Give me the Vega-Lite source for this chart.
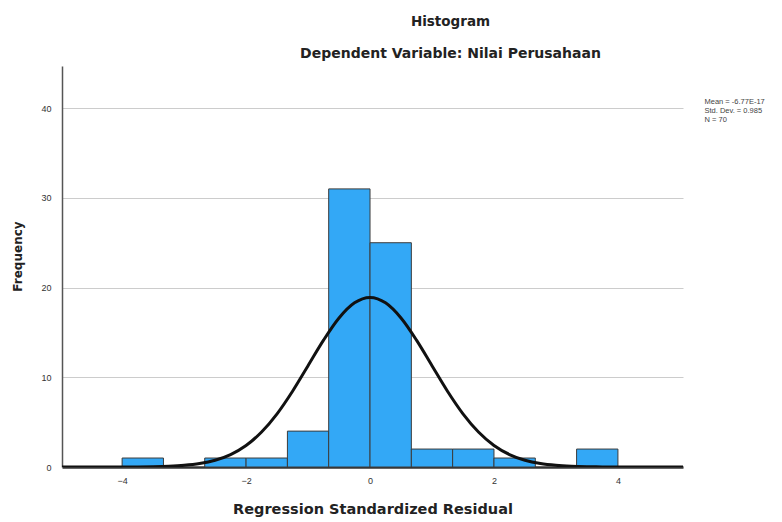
{
  "$schema": "https://vega.github.io/schema/vega-lite/v6.json",
  "width": 621,
  "height": 401,
  "autosize": "none",
  "padding": {"left": 62, "top": 66, "right": 99, "bottom": 55},
  "background": "white",
  "title": {
    "text": "Histogram",
    "subtitle": "Dependent Variable: Nilai Perusahaan",
    "anchor": "middle",
    "dx": 78,
    "offset": 5,
    "font": "DejaVu Sans",
    "fontSize": 13.5,
    "fontWeight": "bold",
    "color": "#222",
    "subtitleFont": "DejaVu Sans",
    "subtitleFontSize": 14,
    "subtitleFontWeight": "bold",
    "subtitleColor": "#222",
    "subtitlePadding": 19
  },
  "config": {
    "view": {"stroke": null},
    "axis": {"labelFont": "Liberation Sans", "titleFont": "DejaVu Sans"}
  },
  "datasets": {
    "bins": [
      {"bin_start": -4.0, "bin_end": -3.333, "count": 1},
      {"bin_start": -2.667, "bin_end": -2.0, "count": 1},
      {"bin_start": -2.0, "bin_end": -1.333, "count": 1},
      {"bin_start": -1.333, "bin_end": -0.667, "count": 4},
      {"bin_start": -0.667, "bin_end": 0.0, "count": 31},
      {"bin_start": 0.0, "bin_end": 0.667, "count": 25},
      {"bin_start": 0.667, "bin_end": 1.333, "count": 2},
      {"bin_start": 1.333, "bin_end": 2.0, "count": 2},
      {"bin_start": 2.0, "bin_end": 2.667, "count": 1},
      {"bin_start": 3.333, "bin_end": 4.0, "count": 2}
    ],
    "curve": [
      {"x": -5.0, "y": 0.0},
      {"x": -4.5, "y": 0.0005},
      {"x": -4.0, "y": 0.005},
      {"x": -3.75, "y": 0.013},
      {"x": -3.5, "y": 0.034},
      {"x": -3.25, "y": 0.082},
      {"x": -3.0, "y": 0.183},
      {"x": -2.75, "y": 0.383},
      {"x": -2.5, "y": 0.754},
      {"x": -2.25, "y": 1.39},
      {"x": -2.0, "y": 2.40},
      {"x": -1.75, "y": 3.90},
      {"x": -1.5, "y": 5.93},
      {"x": -1.25, "y": 8.45},
      {"x": -1.0, "y": 11.29},
      {"x": -0.75, "y": 14.14},
      {"x": -0.5, "y": 16.61},
      {"x": -0.25, "y": 18.30},
      {"x": 0.0, "y": 18.90},
      {"x": 0.25, "y": 18.30},
      {"x": 0.5, "y": 16.61},
      {"x": 0.75, "y": 14.14},
      {"x": 1.0, "y": 11.29},
      {"x": 1.25, "y": 8.45},
      {"x": 1.5, "y": 5.93},
      {"x": 1.75, "y": 3.90},
      {"x": 2.0, "y": 2.40},
      {"x": 2.25, "y": 1.39},
      {"x": 2.5, "y": 0.754},
      {"x": 2.75, "y": 0.383},
      {"x": 3.0, "y": 0.183},
      {"x": 3.25, "y": 0.082},
      {"x": 3.5, "y": 0.034},
      {"x": 3.75, "y": 0.013},
      {"x": 4.0, "y": 0.005},
      {"x": 4.5, "y": 0.0005},
      {"x": 5.05, "y": 0.0}
    ],
    "stats": [
      {"stat": "Mean = -6.77E-17"},
      {"stat": "Std. Dev. = 0.985"},
      {"stat": "N = 70"}
    ]
  },
  "layer": [
    {
      "data": {"name": "bins"},
      "mark": {"type": "bar", "color": "#33a8f6", "stroke": "#3c3c3c", "strokeWidth": 1},
      "encoding": {
        "x": {
          "field": "bin_start",
          "type": "quantitative",
          "scale": {"domain": [-4.97, 5.05], "nice": false, "zero": false},
          "axis": {
            "title": "Regression Standardized Residual",
            "values": [-4, -2, 0, 2, 4],
            "format": "d",
            "grid": false,
            "ticks": false,
            "domainColor": "#333",
            "domainWidth": 2.5,
            "labelFontSize": 9,
            "labelColor": "#333",
            "labelPadding": 9,
            "titleFontSize": 14.5,
            "titleFontWeight": "bold",
            "titleColor": "#222",
            "titlePadding": 17
          }
        },
        "x2": {"field": "bin_end"},
        "y": {
          "field": "count",
          "type": "quantitative",
          "scale": {"domain": [0, 44.7], "nice": false},
          "axis": {
            "title": "Frequency",
            "values": [0, 10, 20, 30, 40],
            "format": "d",
            "grid": true,
            "gridColor": "#cccccc",
            "gridWidth": 1,
            "ticks": false,
            "domainColor": "#555",
            "domainWidth": 1.5,
            "labelFontSize": 9,
            "labelColor": "#333",
            "labelPadding": 11,
            "titleFontSize": 12,
            "titleFontWeight": "bold",
            "titleColor": "#222",
            "titlePadding": 16,
            "titleY": 190
          }
        },
        "y2": {"datum": 0}
      }
    },
    {
      "data": {"name": "curve"},
      "mark": {"type": "line", "color": "#111", "strokeWidth": 3, "interpolate": "monotone", "clip": true},
      "encoding": {
        "x": {"field": "x", "type": "quantitative"},
        "y": {"field": "y", "type": "quantitative"}
      }
    },
    {
      "data": {"name": "stats"},
      "mark": {"type": "point", "opacity": 0},
      "encoding": {
        "x": {"datum": 0},
        "y": {"datum": 0},
        "color": {
          "field": "stat",
          "type": "nominal",
          "scale": {"domain": ["Mean = -6.77E-17", "Std. Dev. = 0.985", "N = 70"], "range": ["#ffffff", "#ffffff", "#ffffff"]},
          "legend": {
            "title": null,
            "orient": "none",
            "legendX": 635,
            "legendY": 32,
            "padding": 0,
            "symbolSize": 0,
            "symbolOpacity": 0,
            "symbolStrokeWidth": 0,
            "labelOffset": 0,
            "labelFont": "Liberation Sans",
            "labelFontSize": 7.5,
            "labelColor": "#444",
            "rowPadding": 0
          }
        }
      }
    }
  ]
}
